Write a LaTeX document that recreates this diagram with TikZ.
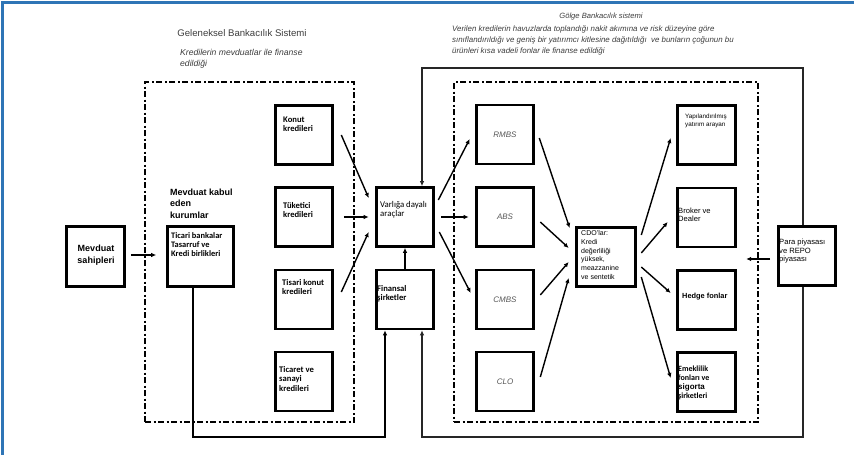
\documentclass[tikz,border=0pt]{standalone}
\usepackage{fontspec}
\setmainfont{Liberation Sans}
\newfontfamily\boxfont{Carlito}
\usetikzlibrary{arrows.meta,calc}

\definecolor{frameblue}{RGB}{46,117,182}
\definecolor{titlegray}{RGB}{60,60,60}
\definecolor{italgray}{RGB}{85,85,85}

\begin{document}
\begin{tikzpicture}[x=1pt,y=-1pt,
  box/.style={draw=black, line width=2.6pt, minimum width=57pt, minimum height=59pt, inner sep=0pt},
  region/.style={draw=black, line width=2.3pt, dash pattern=on 6pt off 2.5pt on 2pt off 2.5pt, inner sep=0pt},
  arr/.style={line width=1.4pt, draw=black, -{Latex[length=5pt,width=4.5pt]}},
  loopline/.style={line width=1.3pt, draw=black!85, -{Latex[length=5pt,width=4.5pt]}},
  lbl/.style={inner sep=0pt, anchor=base west, align=left, font=\boxfont\bfseries\fontsize{8.6}{9.5}\selectfont},
  albl/.style={inner sep=0pt, anchor=base west, align=left, font=\fontsize{7.6}{8.7}\selectfont},
  seclbl/.style={box, font=\itshape\fontsize{8}{9}\selectfont, text=italgray}
]
\useasboundingbox (0,0) rectangle (854,455);

% page frame (top and left edges)
\draw[frameblue, line width=2.5pt] (2.5,455) -- (2.5,2.5) -- (854,2.5);

% headings (multi-line texts are placed by the baseline of their last line)
\node[font=\fontsize{9.6}{11}\selectfont, text=titlegray, anchor=base, inner sep=0pt] (geleneksel) at (242,36.5) {Geleneksel Bankacılık Sistemi};
\node[font=\itshape\fontsize{8.6}{11}\selectfont, text=titlegray, anchor=base west, align=left, inner sep=0pt] (gelenekselAlt) at (180,66) {Kredilerin mevduatlar ile finanse\\edildiği};
\node[font=\itshape\fontsize{7.6}{11}\selectfont, text=titlegray, anchor=base, inner sep=0pt] (golge) at (601,19) {Gölge Bankacılık sistemi};
\node[font=\itshape\fontsize{7.9}{11}\selectfont, text=titlegray, anchor=base west, align=left, inner sep=0pt] (golgeAlt) at (452,53) {Verilen kredilerin havuzlarda toplandığı nakit akımına ve risk düzeyine göre\\sınıflandırıldığı ve geniş bir yatırımcı kitlesine dağıtıldığı\ \ ve bunların çoğunun bu\\ürünleri kısa vadeli fonlar ile finanse edildiği};

% dash-dot regions
\node[region, minimum width=209pt, minimum height=340pt] (trad) at (249.5,252) {};
\node[region, minimum width=304pt, minimum height=340pt] (shadow) at (606,252) {};

% boxes
\node[box, minimum width=58pt, minimum height=60pt] (mevduat) at (95.5,256.5) {};
\node[box, minimum width=66pt, minimum height=60pt] (banka) at (200.5,256.5) {};
\node[box] (konut) at (304,135) {};
\node[box] (tuketici) at (304,217) {};
\node[box] (tkonut) at (304,299.5) {};
\node[box] (ticaret) at (304,381.5) {};
\node[box] (varlik) at (405,217) {};
\node[box] (finans) at (405,299.5) {};
\node[seclbl] (rmbs) at (505,134.5) {RMBS};
\node[seclbl] (abs) at (505,217) {ABS};
\node[seclbl] (cmbs) at (505,299.5) {CMBS};
\node[seclbl] (clo) at (505,381.5) {CLO};
\node[box, minimum width=59pt] (cdo) at (606,257) {};
\node[box, minimum width=58pt] (yap) at (706.5,135) {};
\node[box, minimum width=58pt] (broker) at (706.5,217.5) {};
\node[box, minimum width=58pt] (hedge) at (706.5,300) {};
\node[box, minimum width=58pt] (emek) at (706.5,382) {};
\node[box] (para) at (807,256) {};

% box texts
\node[font=\bfseries\fontsize{9}{12}\selectfont, align=center, anchor=base, inner sep=0pt] (mevduatT) at (96,263) {Mevduat\\sahipleri};
\node[font=\bfseries\fontsize{9}{11.5}\selectfont, align=left, anchor=base west, inner sep=0pt] (kabulT) at (170,218) {Mevduat kabul\\eden\\kurumlar};
\node[lbl, font=\boxfont\bfseries\fontsize{8.4}{9}\selectfont] (bankaT) at (171,256) {Ticari bankalar\\Tasarruf ve\\Kredi birlikleri};
\node[lbl] (konutT) at (283,131.5) {Konut\\kredileri};
\node[lbl] (tuketiciT) at (283,217.5) {Tüketici\\kredileri};
\node[lbl] (tkonutT) at (282,294.5) {Tisari konut\\kredileri};
\node[lbl] (ticaretT) at (279,391) {Ticaret ve\\sanayi\\kredileri};
\node[lbl, font=\boxfont\fontsize{8.8}{9.5}\selectfont] (varlikT) at (380,216.5) {Varlığa dayalı\\araçlar};
\node[lbl] (finansT) at (377,300.5) {Finansal\\şirketler};
\node[albl, font=\fontsize{7}{8.8}\selectfont] (cdoT) at (581,279.5) {CDO'lar:\\Kredi\\değerliliği\\yüksek,\\meazzanine\\ve sentetik};
\node[albl, font=\fontsize{6.3}{8}\selectfont] (yapT) at (685,126) {Yapılandırılmış\\yatırım arayan};
\node[albl] (brokerT) at (678,221.7) {Broker ve\\Dealer};
\node[albl, font=\bfseries\fontsize{7.4}{9}\selectfont] (hedgeT) at (682,298) {Hedge fonlar};
\node[lbl, font=\boxfont\bfseries\fontsize{8}{9.2}\selectfont] (emekT) at (678,398.6) {Emeklilik\\fonları ve\\{\rmfamily sigorta}\\şirketleri};
\node[albl] (paraT) at (779,261.9) {Para piyasası\\ve REPO\\piyasası};

% deposits into banks
\draw[arr] ($(mevduat.east)+(5,-1.5)$) -- ($(banka.west)+(-10,-1.5)$);

% loans pooled into asset-backed instruments
\draw[arr] ($(konut.east)+(7.5,0)$) -- ($(varlik.west)+(-6.5,-19)$);
\draw[arr] ($(tuketici.east)+(10,0)$) -- ($(varlik.west)+(-6.5,0)$);
\draw[arr] ($(tkonut.east)+(7.5,-7.5)$) -- ($(varlik.west)+(-6.5,15)$);
\draw[arr] (finans.north) -- (varlik.south);

% securitisation
\draw[arr] ($(varlik.east)+(3.5,-17)$) -- ($(rmbs.west)+(-5.5,4.5)$);
\draw[arr] ($(varlik.east)+(6.5,0)$) -- ($(abs.west)+(-6.5,0)$);
\draw[arr] ($(varlik.east)+(4.5,15)$) -- ($(cmbs.west)+(-4.5,-6.5)$);

% into CDOs
\draw[arr] ($(rmbs.east)+(4.5,3.5)$) -- ($(cdo.west)+(-5.5,-29)$);
\draw[arr] ($(abs.east)+(5.5,5)$) -- ($(cdo.west)+(-6.5,-9)$);
\draw[arr] ($(cmbs.east)+(5.5,-4.5)$) -- ($(cdo.west)+(-6.5,5)$);
\draw[arr] ($(clo.east)+(5.5,-4.5)$) -- ($(cdo.west)+(-6.5,21)$);

% out to investors
\draw[arr] ($(cdo.east)+(4.5,-22)$) -- ($(yap.west)+(-5.5,3)$);
\draw[arr] ($(cdo.east)+(4.5,-4)$) -- ($(broker.west)+(-8.5,4.5)$);
\draw[arr] ($(cdo.east)+(4.5,10)$) -- ($(hedge.west)+(-5.5,-7)$);
\draw[arr] ($(cdo.east)+(4.5,20)$) -- ($(emek.west)+(-5.5,-4)$);

% short-term funding
\draw[arr] ($(para.west)+(-7,3)$) -- ($(shadow.east)+(-13,7)$);

% funding loops
\coordinate (loopNW) at (422,68);
\coordinate (loopNE) at (803,68);
\coordinate (loopSW) at (422,437);
\coordinate (loopSE) at (803,437);
\draw[loopline] (para.north -| loopNE) -- (loopNE) -- (loopNW) -- (loopNW |- varlik.north);
\draw[loopline] (para.south -| loopSE) -- (loopSE) -- (loopSW) -- (loopSW |- finans.south);

\coordinate (bankL) at (193,437);
\coordinate (bankR) at (385,437);
\draw[arr, line width=2pt] (banka.south -| bankL) -- (bankL) -- (bankR) -- (bankR |- finans.south);
\end{tikzpicture}
\end{document}
